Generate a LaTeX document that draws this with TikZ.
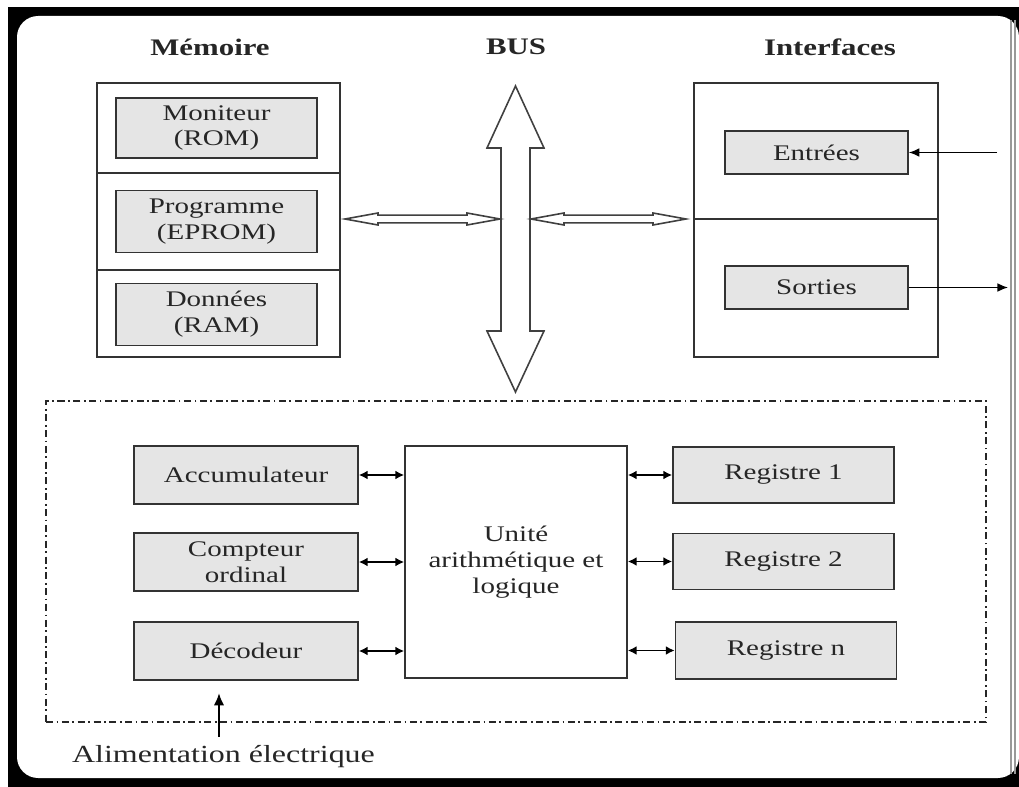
\documentclass[tikz,border=0pt]{standalone}
\usepackage{fontspec}
\setmainfont{Liberation Serif}[FakeStretch=1.3]
\usetikzlibrary{positioning, calc, arrows.meta}

\tikzset{
  cell/.style={draw=black!80, line width=1pt, fill=black!10, align=center, inner sep=0pt,
    text=black!85, font=\fontsize{12.7}{14.7}\selectfont},
  panel/.style={draw=black!80, line width=1pt, inner sep=0pt},
  head/.style={font=\fontsize{13.5}{16}\selectfont\bfseries, text=black!85},
  link/.style={line width=0.8pt, {Latex[length=5pt,width=5pt]}-{Latex[length=5pt,width=5pt]}},
  hollow/.style={draw=black!75, line width=0.9pt, fill=white},
}

\begin{document}
\begin{tikzpicture}[x=0.02cm, y=-0.02cm]
  \useasboundingbox (0,0) rectangle (1019,787);
  % frame
  \fill[black] (8,7) rectangle (1019,787);
  \fill[white, rounded corners=12pt] (17,16) rectangle (1019,778);
  \draw[black!40, line width=0.6pt] (1011,20) -- (1011,774) (1015,20) -- (1015,774);

  % titles
  \node[head] (tmem) at (210,47) {Mémoire};
  \node[head] (tbus) at (516,47) {BUS};
  \node[head] (titf) at (830,47) {Interfaces};

  % memory
  \node[panel, minimum width=4.86cm, minimum height=5.48cm] (mem) at (218.5,220) {};
  \draw[panel] (mem.west |- 0,173) -- (mem.east |- 0,173);
  \draw[panel] (mem.west |- 0,270) -- (mem.east |- 0,270);
  \node[cell, minimum width=4.02cm, minimum height=1.2cm] (rom) at (216.5,128) {Moniteur\\(ROM)};
  \node[cell, minimum width=4.02cm, minimum height=1.24cm] (eprom) at (216.5,221.5) {Programme\\(EPROM)};
  \node[cell, minimum width=4.02cm, minimum height=1.24cm] (ram) at (216.5,314.5) {Données\\(RAM)};

  % interfaces
  \node[panel, minimum width=4.88cm, minimum height=5.48cm] (itf) at (816,220) {};
  \draw[panel] (itf.west |- 0,219) -- (itf.east |- 0,219);
  \node[cell, minimum width=3.66cm, minimum height=0.86cm] (in) at (816.5,152.5) {Entrées};
  \node[cell, minimum width=3.66cm, minimum height=0.86cm] (out) at (816.5,287.5) {Sorties};
  \coordinate (inx) at (997,152.5);
  \coordinate (outx) at (1008,287.5);
  \draw[line width=0.8pt, -{Latex[length=6pt,width=5pt]}] (inx) -- (in.east);
  \draw[line width=0.8pt, -{Latex[length=6pt,width=5pt]}] (out.east) -- (outx);

  % bus
  \draw[hollow] (515.5,86) -- (544,148) -- (530,148) -- (530,331) -- (544,331) -- (515.5,392)
    -- (487,331) -- (501,331) -- (501,148) -- (487,148) -- cycle;
  \draw[hollow] (345,219) -- (378,213) -- (378,215.2) -- (467,215.2) -- (467,213) -- (500,219)
    -- (467,225) -- (467,222.8) -- (378,222.8) -- (378,225) -- cycle;
  \draw[hollow] (531,219) -- (564,213) -- (564,215.2) -- (653,215.2) -- (653,213) -- (686,219)
    -- (653,225) -- (653,222.8) -- (564,222.8) -- (564,225) -- cycle;

  % processor
  \node[draw=black!85, line width=0.9pt, dash pattern=on 4pt off 2pt on 1pt off 2pt,
    minimum width=18.8cm, minimum height=6.42cm, inner sep=0pt] (cpu) at (516,561.5) {};
  \node[cell, minimum width=4.48cm, minimum height=1.16cm] (acc) at (246,475) {Accumulateur};
  \node[cell, minimum width=4.48cm, minimum height=1.16cm] (pc) at (246,562) {Compteur\\ordinal};
  \node[cell, minimum width=4.48cm, minimum height=1.16cm] (dec) at (246,651) {Décodeur};
  \node[cell, fill=white, minimum width=4.44cm, minimum height=4.64cm] (alu) at (516,562)
    {Unité\\arithmétique et\\logique};
  \node[cell, minimum width=4.42cm, minimum height=1.12cm] (r1) at (783.5,475) {Registre 1};
  \node[cell, minimum width=4.42cm, minimum height=1.12cm] (r2) at (783.5,561.5) {Registre 2};
  \node[cell, minimum width=4.42cm, minimum height=1.14cm] (rn) at (786,650.5) {Registre n};

  \draw[link] (acc.east) -- (acc.east -| alu.west);
  \draw[link] (pc.east) -- (pc.east -| alu.west);
  \draw[link] (dec.east) -- (dec.east -| alu.west);
  \draw[link] (alu.east |- r1.west) -- (r1.west);
  \draw[link] (alu.east |- r2.west) -- (r2.west);
  \draw[link] (alu.east |- rn.west) -- (rn.west);

  % power
  \node[font=\fontsize{14}{16}\selectfont, text=black!85, inner sep=5pt] (alim) at (223.5,757)
    {Alimentation électrique};
  \coordinate (pwr) at (219,693);
  \draw[line width=1.6pt, -{Latex[length=7pt,width=6pt]}] (alim.north -| pwr) -- (pwr);
\end{tikzpicture}
\end{document}
